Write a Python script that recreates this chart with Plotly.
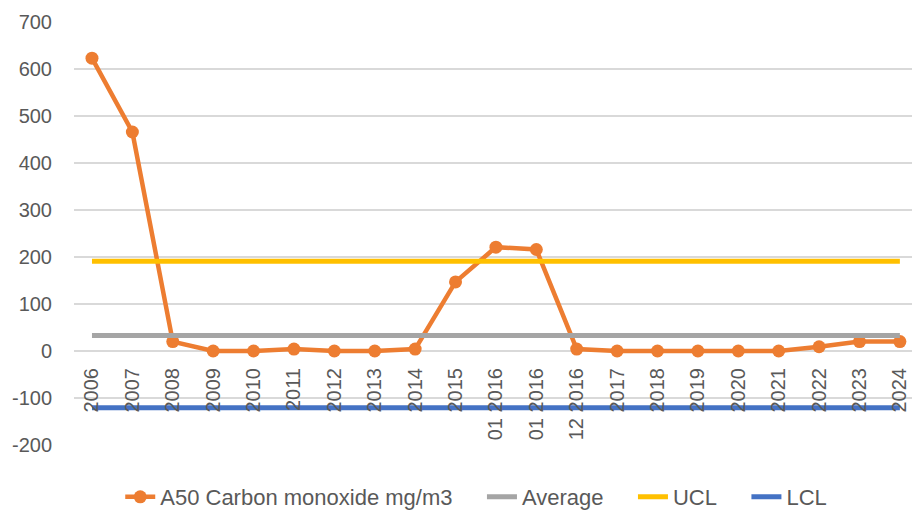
import plotly.graph_objects as go

categories = ["2006", "2007", "2008", "2009", "2010", "2011", "2012", "2013", "2014", "2015",
              "01 2016", "01 2016", "12 2016", "2017", "2018", "2019", "2020", "2021", "2022",
              "2023", "2024"]
co_values = [623, 466, 20, 0, 0, 4, 0, 0, 4, 147, 221, 216, 4, 0, 0, 0, 0, 0, 9, 20, 20]
average_value = 33
ucl_value = 191
lcl_value = -121
y_ticks = [-200, -100, 0, 100, 200, 300, 400, 500, 600, 700]
y_tick_labels = ["-200", "-100", "0", "100", "200", "300", "400", "500", "600", "700"]
series_names = ["A50 Carbon monoxide mg/m3", "Average", "UCL", "LCL"]

x_pos = list(range(len(categories)))
pad = "\u00a0" * 4

fig = go.Figure()
fig.add_trace(go.Scatter(
    x=x_pos, y=co_values, mode="lines+markers", name=series_names[0] + pad,
    line=dict(color="#ED7D31", width=4.5), marker=dict(color="#ED7D31", size=13)))
fig.add_trace(go.Scatter(
    x=x_pos, y=[average_value] * len(categories), mode="lines", name=series_names[1] + pad,
    line=dict(color="#A5A5A5", width=5)))
fig.add_trace(go.Scatter(
    x=x_pos, y=[ucl_value] * len(categories), mode="lines", name=series_names[2] + pad,
    line=dict(color="#FFC000", width=5)))
fig.add_trace(go.Scatter(
    x=x_pos, y=[lcl_value] * len(categories), mode="lines", name=series_names[3],
    line=dict(color="#4472C4", width=5)))

font_family = "Liberation Sans, Arial, sans-serif"
fig.update_layout(
    width=912, height=512,
    margin=dict(l=74, r=0, t=22, b=67, autoexpand=False),
    paper_bgcolor="white", plot_bgcolor="white",
    font=dict(family=font_family, size=19, color="#595959"),
    showlegend=True,
    legend=dict(orientation="h", x=0.48, xanchor="center", y=-0.123, yanchor="middle",
                font=dict(size=22, color="#595959"), bgcolor="rgba(0,0,0,0)"),
    xaxis=dict(
        range=[-0.445, 20.3], tickmode="array", tickvals=x_pos, ticktext=categories,
        tickangle=-90, showgrid=False, zeroline=False, showline=False, ticks="",
        anchor="free", position=200 / 900, ticklabelstandoff=12, automargin=False,
        tickfont=dict(size=20, color="#595959")),
    yaxis=dict(
        range=[-200, 700], tickmode="array", tickvals=y_ticks, ticktext=y_tick_labels,
        automargin=False,
        showgrid=True, gridcolor="#D9D9D9", gridwidth=1.5, zeroline=False,
        showline=False, ticks="", ticklabelstandoff=21,
        tickfont=dict(size=20, color="#595959")),
)

fig.write_html("out.html", config={"displayModeBar": False},
               post_script="document.body.style.margin='0';document.body.style.overflow='hidden';")
